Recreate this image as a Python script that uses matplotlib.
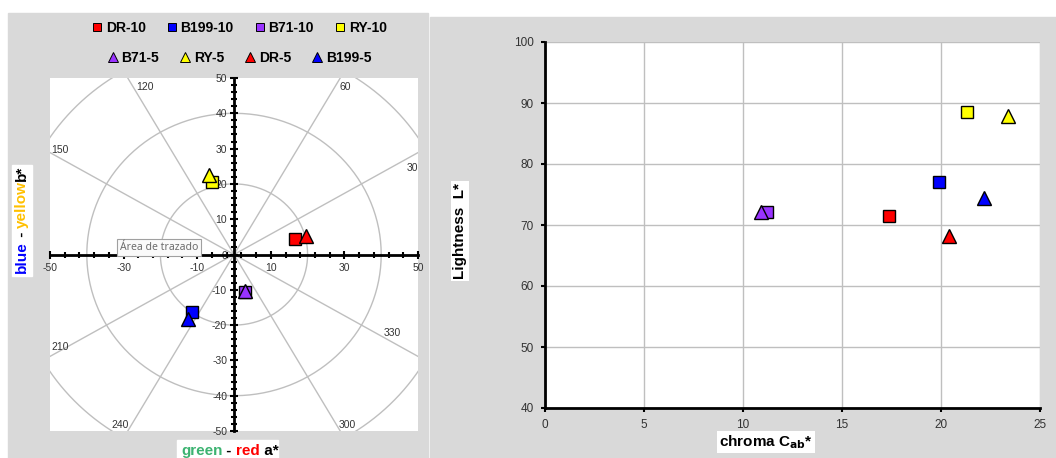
import matplotlib.pyplot as plt
import numpy as np
from matplotlib.lines import Line2D
from matplotlib.patches import Rectangle

plt.rcParams["font.family"] = ["Liberation Sans", "DejaVu Sans"]
plt.rcParams["axes.unicode_minus"] = False

# samples, CIELAB coordinates
samples = ["DR-10", "B199-10", "B71-10", "RY-10", "B71-5", "RY-5", "DR-5", "B199-5"]
a_star = [16.6, -11.5, 3.1, -5.9, 2.9, -6.7, 19.6, -12.6]
b_star = [4.3, -16.2, -10.6, 20.6, -10.3, 22.5, 5.2, -18.4]
chroma = [17.4, 19.9, 11.2, 21.3, 10.9, 23.4, 20.4, 22.15]
lightness = [71.4, 77.1, 72.1, 88.5, 72.2, 87.9, 68.2, 74.4]

hue_angles = [30, 60, 120, 150, 210, 240, 300, 330]
chroma_rings = [20, 40, 60]

legend_row1 = ["DR-10", "B199-10", "B71-10", "RY-10"]
legend_row2 = ["B71-5", "RY-5", "DR-5", "B199-5"]

COLORS = {"DR": "#ff0000", "B199": "#0000ff", "B71": "#9933ff", "RY": "#ffff00"}
GRID = "#bfbfbf"
TICK = "#333333"

W, H = 1056, 458


def fx(px):
    return px / W


def fy(py):
    return 1 - py / H


def style_of(name):
    family, level = name.split("-")
    marker = "s" if level == "10" else "^"
    return COLORS[family], marker


fig = plt.figure(figsize=(W / 100, H / 100), dpi=100)

# grey chart areas
fig.patches.append(Rectangle((fx(8), 0), fx(420), 1 - 13 / H,
                             transform=fig.transFigure, color="#d9d9d9", zorder=-10))
fig.patches.append(Rectangle((fx(430), 0), fx(626), 1 - 17 / H,
                             transform=fig.transFigure, color="#d9d9d9", zorder=-10))

# ---------------- left: a*b* plane ----------------
ax1 = fig.add_axes([fx(50), fy(431), fx(368), (431 - 78) / H])
ax1.set_facecolor("white")
ax1.set_xlim(-50, 50)
ax1.set_ylim(-50, 50)

theta = np.linspace(0, 2 * np.pi, 400)
for r in chroma_rings:
    ax1.plot(r * np.cos(theta), r * np.sin(theta), color=GRID, lw=1, zorder=1)
for ang in hue_angles:
    t = np.radians(ang)
    ax1.plot([0, 90 * np.cos(t)], [0, 90 * np.sin(t)], color=GRID, lw=1, zorder=1)

label_offsets = {30: (-6, -15), 60: (5, -9), 120: (17, -9), 150: (10, 3),
                 210: (10, 9), 240: (-8, 6), 300: (7, 6), 330: (-26, 23)}
for ang in hue_angles:
    t = np.radians(ang)
    c, s = np.cos(t), np.sin(t)
    k = min(50 / abs(c), 50 / abs(s))
    dx, dy = label_offsets[ang]
    ax1.annotate(str(ang), xy=(k * c, k * s), xytext=(dx, dy),
                 textcoords="offset pixels", ha="center", va="center",
                 fontsize=7.5, color=TICK, annotation_clip=False)

for spine in ["top", "right"]:
    ax1.spines[spine].set_visible(False)
for spine in ["left", "bottom"]:
    ax1.spines[spine].set_position("zero")
    ax1.spines[spine].set_linewidth(2)
    ax1.spines[spine].set_zorder(3)
ax1.set_xticks(np.arange(-50, 51, 20))
ax1.set_xticks(np.arange(-50, 51, 4), minor=True)
ax1.set_yticks(np.arange(-50, 51, 10))
ax1.set_yticks(np.arange(-50, 51, 2), minor=True)
ax1.tick_params(which="major", direction="inout", length=6, width=1.5,
                labelsize=7.5, labelcolor=TICK, pad=2)
ax1.tick_params(which="minor", direction="inout", length=5, width=1.5)
ax1.tick_params(axis="x", pad=3)

for name, a, b in zip(samples, a_star, b_star):
    color, marker = style_of(name)
    ax1.plot(a, b, marker=marker, color=color, markeredgecolor="black",
             markeredgewidth=1, markersize=8.5 if marker == "s" else 9.5,
             linestyle="none", zorder=5, clip_on=False)

# excel tooltip left on the picture
fig.text(fx(159), fy(247.5), "Área de trazado", ha="center", va="center",
         fontsize=7.5, family=["Noto Sans", "DejaVu Sans"], color="#6d6d6d",
         bbox=dict(boxstyle="square,pad=0.3", facecolor="#fafafa",
                   edgecolor="#a0a0a0", lw=0.8), zorder=20)

# legend rows
for row, yc in [(legend_row1, 28), (legend_row2, 58)]:
    handles = []
    for name in row:
        color, marker = style_of(name)
        handles.append(Line2D([], [], marker=marker, linestyle="none", color=color,
                              markeredgecolor="black", markeredgewidth=0.7,
                              markersize=5.5 if marker == "s" else 6.5, label=name))
    fig.legend(handles=handles, loc="center", bbox_to_anchor=(fx(240), fy(yc)),
               ncol=4, frameon=False, handlelength=0.6, handletextpad=0.3,
               columnspacing=1.6, prop={"weight": "bold", "size": 10})

# multi-coloured axis titles
fig.patches.append(Rectangle((fx(12), fy(276)), fx(20), (276 - 165) / H,
                             transform=fig.transFigure, color="white", zorder=-5))
fig.patches.append(Rectangle((fx(177), 0), fx(101), (458 - 440) / H,
                             transform=fig.transFigure, color="white", zorder=-5))

pieces_b = [("blue", "#0000ff"), (" - ", "black"), ("yellow", "#ffc000"), ("b*", "black")]
prev = ax1.annotate(pieces_b[0][0], xy=(fx(22), fy(273)), xycoords="figure fraction",
                    rotation=90, ha="center", va="bottom", fontsize=11,
                    fontweight="bold", color=pieces_b[0][1], annotation_clip=False)
for txt, col in pieces_b[1:]:
    prev = ax1.annotate(txt, xy=(0.5, 1), xycoords=prev, rotation=90, ha="center",
                        va="bottom", fontsize=11, fontweight="bold", color=col,
                        annotation_clip=False)

pieces_a = [("green", "#3cb371"), (" - ", "black"), ("red", "#ff0000"), (" a*", "black")]
prev = ax1.annotate(pieces_a[0][0], xy=(fx(181), fy(455)), xycoords="figure fraction",
                    ha="left", va="baseline", fontsize=11, fontweight="bold",
                    color=pieces_a[0][1], annotation_clip=False)
for txt, col in pieces_a[1:]:
    prev = ax1.annotate(txt, xy=(1, 0), xycoords=prev, ha="left", va="bottom",
                        fontsize=11, fontweight="bold", color=col,
                        annotation_clip=False)

# ---------------- right: chroma vs lightness ----------------
ax2 = fig.add_axes([fx(544.6), fy(408), fx(495.4), (408 - 42) / H])
ax2.set_facecolor("white")
ax2.set_xlim(0, 25)
ax2.set_ylim(40, 100)
ax2.set_xticks(np.arange(0, 26, 5))
ax2.set_yticks(np.arange(40, 101, 10))
ax2.grid(True, color=GRID, lw=1)
ax2.set_axisbelow(True)
for spine in ["top", "right"]:
    ax2.spines[spine].set_visible(False)
for spine in ["left", "bottom"]:
    ax2.spines[spine].set_linewidth(2)
ax2.tick_params(direction="out", length=3, width=1.5, labelsize=8.5,
                labelcolor=TICK, pad=5)

for name, c, L in zip(samples, chroma, lightness):
    color, marker = style_of(name)
    ax2.plot(c, L, marker=marker, color=color, markeredgecolor="black",
             markeredgewidth=1, markersize=8.5 if marker == "s" else 9.5,
             linestyle="none", zorder=5)

fig.text(fx(460), fy(231), "Lightness  L*", rotation=90, ha="center", va="center",
         fontsize=11, fontweight="bold",
         bbox=dict(facecolor="white", edgecolor="none", pad=1.5))
fig.text(fx(766), fy(442), r"chroma C$_{\mathbf{ab}}$*", ha="center", va="center",
         fontsize=11, fontweight="bold",
         bbox=dict(facecolor="white", edgecolor="none", pad=1.5))

fig.savefig("out.png", dpi=100)
